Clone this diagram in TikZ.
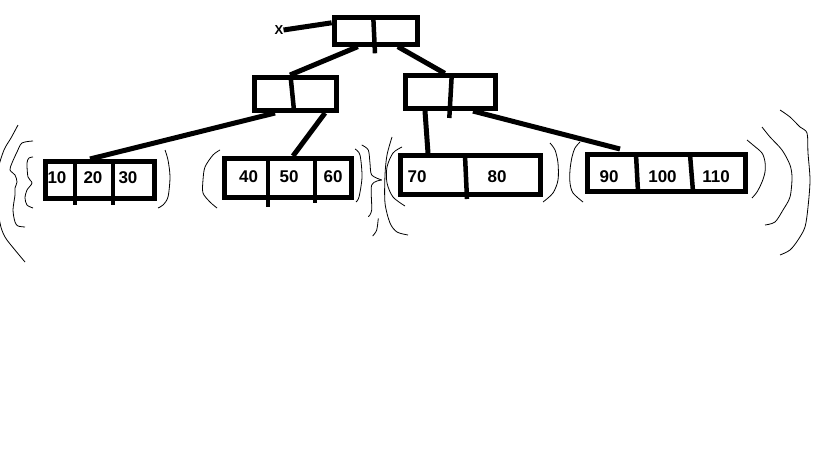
\documentclass[tikz,border=0pt]{standalone}
\usepackage{fontspec}
\setmainfont{Liberation Sans}
\begin{document}
\begin{tikzpicture}[x=1pt,y=-1pt,
  box/.style={draw, line width=5pt, fill=white, inner sep=0pt},
  wire/.style={line width=5pt},
  bar/.style={line width=4.5pt},
  key/.style={font=\fontsize{17}{17}\selectfont\bfseries, inner sep=0pt},
  tag/.style={font=\fontsize{13}{13}\selectfont\bfseries, inner sep=0pt},
  scrawl/.style={line width=0.8pt, line join=round}]
\useasboundingbox (0,0) rectangle (819,460);
\fill[white] (0,0) rectangle (819,460);

% tree nodes
\node[box, minimum width=83.3pt, minimum height=26.7pt] (root) at (375.8,30.8) {};
\node[box, minimum width=82pt, minimum height=33pt] (midL) at (295.5,94) {};
\node[box, minimum width=90pt, minimum height=32.7pt] (midR) at (450.8,92.2) {};
\node[box, minimum width=109pt, minimum height=37pt] (leafA) at (100,180) {};
\node[box, minimum width=127pt, minimum height=39pt] (leafB) at (288,178) {};
\node[box, minimum width=140pt, minimum height=39pt] (leafC) at (470.5,175) {};
\node[box, minimum width=158pt, minimum height=37pt] (leafD) at (666.5,173) {};

% cell dividers
\draw[bar] (373.3,17.5) -- (375,53.3);
\draw[bar] (290.7,77.5) -- (294,110.5);
\draw[bar] (451.7,75.8) -- (449.3,118);
\draw[bar] (75,161.5) -- (75,205);
\draw[bar] (113,161.5) -- (113,205);
\draw[bar] (268,158.5) -- (268,207);
\draw[bar] (315,158.5) -- (315,203);
\draw[bar] (465,155.5) -- (467,199);
\draw[bar] (636,154.5) -- (638,191.5);
\draw[bar] (690,154.5) -- (693,191.5);

% keys
\node[key] (k10) at (57,177.5) {10};
\node[key] (k20) at (93,177.5) {20};
\node[key] (k30) at (128,177.5) {30};
\node[key] (k40) at (248.5,177) {40};
\node[key] (k50) at (289,177) {50};
\node[key] (k60) at (333,177) {60};
\node[key] (k70) at (417,176.7) {70};
\node[key] (k80) at (497,176.7) {80};
\node[key] (k90) at (609,177) {90};
\node[key] (k100) at (662.5,177) {100};
\node[key] (k110) at (716,177) {110};

% root pointer
\node[tag] (xlab) at (279,30) {X};
\draw[wire] (xlab.east) -- ([yshift=8pt]root.west);

% child links
\draw[wire] ([xshift=-18pt]root.south) -- ([xshift=-5.5pt]midL.north);
\draw[wire] ([xshift=22pt]root.south) -- ([xshift=-6pt]midR.north);
\draw[wire] ([xshift=-20.5pt]midL.south) -- ([xshift=-10pt]leafA.north);
\draw[wire] ([xshift=29.5pt]midL.south) -- ([xshift=5pt]leafB.north);
\draw[wire] ([xshift=-25.8pt]midR.south) -- ([xshift=-42.5pt]leafC.north);
\draw[wire] ([xshift=22.2pt]midR.south) -- ([xshift=-46.5pt,yshift=3pt]leafD.north);

% hand-drawn brackets around the leaves
\draw[scrawl] plot[smooth] coordinates {(18,125) (11,138) (4,150) (-2,170) (-3,195) (0,223) (5,237) (15,250) (25,262)};
\draw[scrawl] plot[smooth] coordinates {(33,141) (22,143) (17,152) (12,163) (10,170) (15,175) (17,182) (15,188) (15,195) (13,210) (15,222) (18,226) (25,227)};
\draw[scrawl] plot[smooth] coordinates {(33,157) (29,158) (27,163) (28,177) (32,183) (27,190) (25,198) (27,205) (33,208)};
\draw[scrawl] plot[smooth] coordinates {(165,150) (168,160) (170,177) (168,197) (163,205) (158,208)};
\draw[scrawl] plot[smooth] coordinates {(220,150) (213,155) (205,167) (203,180) (203,193) (210,202) (217,208)};
\draw[scrawl] plot[smooth] coordinates {(355,149) (360,155) (362,177) (359,197) (356,202)};
\draw[scrawl] plot[smooth] coordinates {(361.7,145) (368.3,150) (370,163.3) (371.7,175) (381.7,180)};
\draw[scrawl] plot[smooth] coordinates {(381.7,180) (371.7,185) (371.7,210) (368.3,216.7)};
\draw[scrawl] plot[smooth] coordinates {(378.3,218.3) (376.7,230) (372.7,236)};
\draw[scrawl] plot[smooth] coordinates {(392,137) (387,155) (385,175) (385,203) (390,223) (397,232) (408,235)};
\draw[scrawl] plot[smooth] coordinates {(402,147) (393,153) (387,167) (387,183) (393,197) (405,206)};
\draw[scrawl] plot[smooth] coordinates {(550,143) (555,150) (558,163) (558,180) (553,193) (543,202)};
\draw[scrawl] plot[smooth] coordinates {(580,142) (575,148) (572,157) (570,170) (570,183) (573,193) (583,202)};
\draw[scrawl] plot[smooth] coordinates {(747,140) (753,145) (762,153) (765,162) (765,172) (762,182) (757,192) (752,198)};
\draw[scrawl] plot[smooth] coordinates {(762,127) (770,137) (782,150) (790,165) (792,178) (790,197) (783,210) (775,222) (765,225)};
\draw[scrawl] plot[smooth] coordinates {(780,110) (790,117) (800,127) (807,133) (808,153) (810,180) (808,207) (805,227) (798,240) (790,250) (780,255)};
\end{tikzpicture}
\end{document}
